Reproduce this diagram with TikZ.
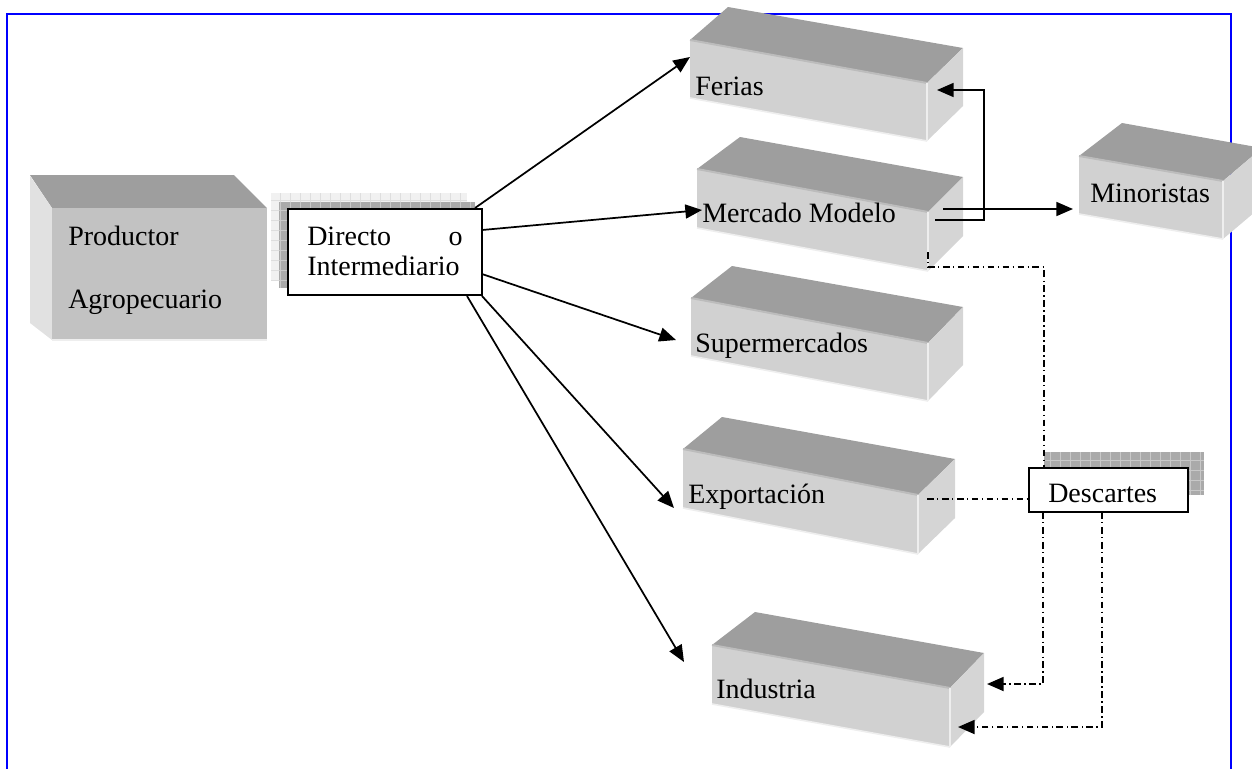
\documentclass[tikz,border=0pt]{standalone}
\usepackage{fontspec}
\setmainfont{Liberation Serif}
\usetikzlibrary{arrows.meta,calc}
\definecolor{topg}{RGB}{158,158,158}
\definecolor{frontg}{RGB}{209,209,209}
\definecolor{sideg}{RGB}{213,213,213}
\definecolor{edgeg}{RGB}{188,188,188}
\definecolor{hilite}{RGB}{238,238,238}
\definecolor{prodfront}{RGB}{194,194,194}
\definecolor{prodleft}{RGB}{225,225,225}
\definecolor{gridlight}{RGB}{241,241,241}
\definecolor{gridlightline}{RGB}{222,222,222}
\definecolor{griddark}{RGB}{170,170,170}
\definecolor{griddarkline}{RGB}{200,200,200}
\definecolor{bordblue}{RGB}{0,0,255}
\tikzset{
  lbl/.style={anchor=base west, inner sep=0pt, font=\fontsize{21}{25}\selectfont},
  lble/.style={anchor=base east, inner sep=0pt, font=\fontsize{21}{25}\selectfont},
  arr/.style={line width=1.3pt, -{Triangle[length=12.5pt, width=10.5pt]}},
  dd/.style={line width=1.4pt, dash pattern=on 5pt off 2.6pt on 1pt off 2.6pt},
  ddarr/.style={dd, -{Triangle[length=12.5pt, width=10.5pt]}},
  whitebox/.style={draw, fill=white, line width=1.3pt, inner sep=0pt, outer sep=0pt},
}
\newcommand{\tiltbox}[6]{%
  \coordinate (#1-ftl) at #2; \coordinate (#1-ftr) at #3;
  \coordinate (#1-btl) at #5; \coordinate (#1-btr) at #6;
  \coordinate (#1-fbl) at ($(#1-ftl)+(0,#4)$);
  \coordinate (#1-fbr) at ($(#1-ftr)+(0,#4)$);
  \coordinate (#1-bbr) at ($(#1-btr)+(0,#4)$);
  \fill[topg] (#1-ftl) -- (#1-ftr) -- (#1-btr) -- (#1-btl) -- cycle;
  \fill[sideg] (#1-ftr) -- (#1-btr) -- (#1-bbr) -- (#1-fbr) -- cycle;
  \fill[frontg] (#1-ftl) -- (#1-ftr) -- (#1-fbr) -- (#1-fbl) -- cycle;
  \draw[edgeg, line width=1.5pt] (#1-ftl) -- (#1-ftr);
  \draw[hilite, line width=1.5pt] (#1-ftr) -- (#1-fbr);
  \draw[hilite, line width=1.2pt] (#1-fbl) -- (#1-fbr);
}
\begin{document}
\begin{tikzpicture}[x=0.75pt,y=-0.75pt]
\useasboundingbox (0,0) rectangle (1252,768);
% page frame
\draw[bordblue, line width=1.1pt] (7,800) -- (7,14) -- (1231,14) -- (1231,800);

% Productor box
\fill[topg] (30,175) -- (234,175) -- (267,208) -- (52,208) -- cycle;
\fill[prodleft] (30,176) -- (52,208) -- (52,340) -- (30,323) -- cycle;
\fill[prodfront] (52,208) rectangle (267,340);
\draw[hilite, line width=1.2pt] (52,340) -- (267,340);
\node[lbl] (prod1) at (68,245) {Productor};
\node[lbl] (prod2) at (68,308) {Agropecuario};

% tilted boxes
\tiltbox{fer}{(690,40)}{(927,83)}{58}{(728,7)}{(963,48)}
\tiltbox{mer}{(697,169)}{(928,212)}{59}{(740,137)}{(963,177)}
\tiltbox{min}{(1079,156)}{(1223,181)}{58}{(1122,123)}{(1262,148)}
\tiltbox{sup}{(691,298)}{(928,343)}{58}{(732,266)}{(963,307)}
\tiltbox{exp}{(683,449)}{(918,495)}{59}{(722,417)}{(955,459)}
\tiltbox{ind}{(712,645)}{(950,688)}{59}{(755,612)}{(984,653)}

\node[lbl] (ferias) at (695,95) {Ferias};
\node[lbl] (mercado) at (702,222) {Mercado Modelo};
\node[lbl] (minor) at (1090,202) {Minoristas};
\node[lbl] (super) at (695,352) {Supermercados};
\node[lbl] (export) at (688,503) {Exportación};
\node[lbl] (indus) at (716,698) {Industria};

% Directo o Intermediario with grid shadows
\fill[gridlight] (271,193) rectangle (467,280);
\draw[gridlightline, line width=0.5pt, step=7.5pt] (271,280) grid (467,193);
\fill[griddark] (279,202) rectangle (475,288);
\draw[griddarkline, line width=0.5pt, step=7.5pt] (279,288) grid (475,202);
\node[whitebox, minimum width=145.5pt, minimum height=64.5pt] (dir) at (385,252) {};
\node[lbl] (dir1) at (307,245) {Directo};
\node[lble] (dir2) at (463,245) {o};
\node[lbl] (dir3) at (307,275) {Intermediario};

% Descartes with grid shadow
\fill[griddark] (1044,452) rectangle (1204,495);
\draw[griddarkline, line width=0.5pt, step=7.5pt] (1044,495) grid (1204,452);
\node[whitebox, minimum width=119.25pt, minimum height=33pt] (desc) at (1108.5,490) {};
\node[lbl] (desct) at (1048,502) {Descartes};

% connector end points
\coordinate (d-fer) at (475,208);
\coordinate (t-fer) at (690,57);
\coordinate (d-mer) at (482,230);
\coordinate (t-mer) at (702,210);
\coordinate (d-sup) at (482,274);
\coordinate (t-sup) at (676,340);
\coordinate (d-exp) at (482,296);
\coordinate (t-exp) at (674,508);
\coordinate (d-ind) at (467,296);
\coordinate (t-ind) at (684,662);
\coordinate (mer-hi) at (943,209);
\coordinate (t-min) at (1073,209);
\coordinate (mer-lo) at (935,220);
\coordinate (loopc) at (984,90);
\coordinate (t-ferr) at (937,90);
\coordinate (mer-dd) at (928,252);
\coordinate (dd-c1) at (1044,267);
\coordinate (exp-dd) at (927,499);
\coordinate (dc1) at (1043,684);
\coordinate (t-ind1) at (987,684);
\coordinate (dc2) at (1102,727);
\coordinate (t-ind2) at (958,727);

% solid arrows from Directo
\draw[arr] (d-fer) -- (t-fer);
\draw[arr] (d-mer) -- (t-mer);
\draw[arr] (d-sup) -- (t-sup);
\draw[arr] (d-exp) -- (t-exp);
\draw[arr] (d-ind) -- (t-ind);

% Mercado Modelo outputs
\draw[arr] (mer-hi) -- (t-min);
\draw[arr] (mer-lo) -| (loopc) -- (t-ferr);

% dash-dot lines to Descartes
\draw[dd] (mer-dd) |- (dd-c1) -- (dd-c1 |- desc.north);
\draw[dd] (exp-dd) -- (exp-dd -| desc.west);
\draw[ddarr] (dc1 |- desc.south) -- (dc1) -- (t-ind1);
\draw[ddarr] (dc2 |- desc.south) -- (dc2) -- (t-ind2);
\end{tikzpicture}
\end{document}
